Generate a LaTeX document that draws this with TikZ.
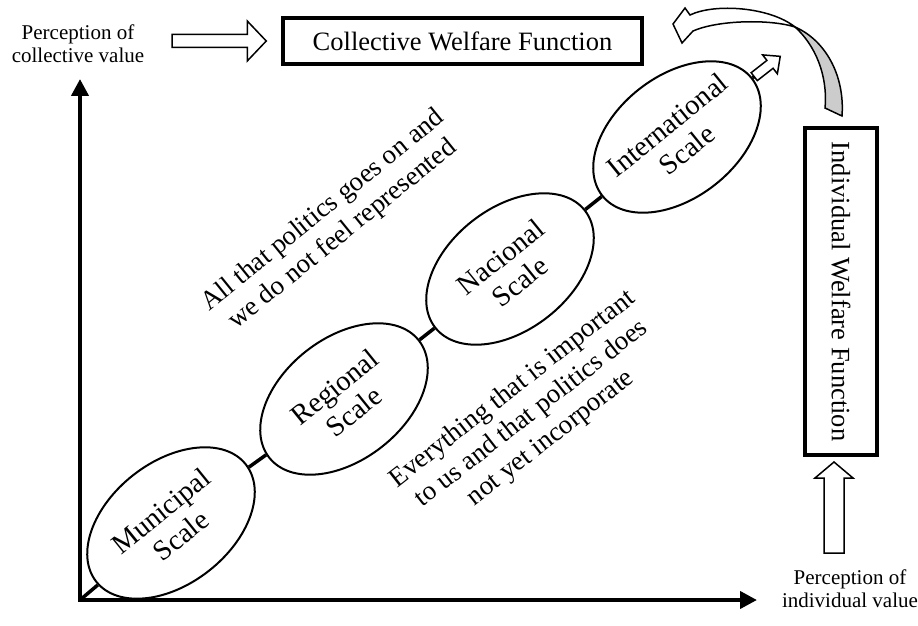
\documentclass[tikz,border=0pt]{standalone}
\usepackage{fontspec}
\setmainfont{Liberation Serif}
\usetikzlibrary{arrows.meta,calc,shapes.geometric}

% hollow block arrow: from, to, half shaft, half head, head length
\newcommand{\hollowarrow}[5]{%
  \coordinate (hb) at ($(#2)!#5!(#1)$);
  \draw[blockarrow] ($(#1)!#3!90:(#2)$) -- ($(hb)!#3!-90:(#1)$) -- ($(hb)!#4!-90:(#1)$)
    -- (#2) -- ($(hb)!#4!90:(#1)$) -- ($(hb)!#3!90:(#1)$) -- ($(#1)!#3!-90:(#2)$) -- cycle;}

\begin{document}
\begin{tikzpicture}[line join=miter,>={Triangle[length=17pt,width=17pt]},x=1pt,y=1pt,
  scalebox/.style={ellipse,draw,line width=2pt,fill=white,inner sep=0pt,
    minimum width=190pt,minimum height=122pt,rotate=38},
  scaletext/.style={rotate=39,align=center,font=\fontsize{28.5}{31}\selectfont},
  wfbox/.style={draw,line width=3.5pt,inner sep=0pt,font=\fontsize{26.5}{30}\selectfont},
  note/.style={rotate=38,align=center,font=\fontsize{27}{31}\selectfont},
  small/.style={align=center,font=\fontsize{21}{23}\selectfont},
  blockarrow/.style={draw,line width=1.5pt,fill=white}]
\useasboundingbox (0,0) rectangle (918,625);

% axes
\coordinate (O) at (80,25);
\coordinate (ytip) at (80,546);
\coordinate (xtip) at (757,25);
\draw[line width=4pt,<->] (ytip) -- (O) -- (xtip);

% scales
\node[scalebox] (mun) at (171,102) {};
\node[scalebox] (reg) at (344,226) {};
\node[scalebox] (nac) at (510,356) {};
\node[scalebox] (int) at (677,488) {};
\foreach \n/\t in {mun/Municipal,reg/Regional,nac/Nacional,int/International}
  \node[scaletext] at (\n) {\t\\Scale};
\coordinate (stub) at ($(int.center)+(38:98)$);
\coordinate (stubtip) at ($(int.center)+(38:131)$);
\draw[line width=3.5pt] (O) -- (mun) (mun) -- (reg) (reg) -- (nac) (nac) -- (int) (int) -- (stub);
\hollowarrow{stub}{stubtip}{5pt}{12pt}{13pt}

% welfare functions
\node[wfbox,minimum width=359pt,minimum height=46pt] (cwf) at (462.5,584) {Collective Welfare Function};
\node[wfbox,rotate=-90,minimum width=327pt,minimum height=72pt] (iwf) at (841,333.5) {Individual Welfare Function};
\node[small] (pcv) at (78,581) {Perception of\\collective value};
\node[small] (piv) at (850,36) {Perception of\\individual value};
\coordinate (ca1) at (172,584);
\coordinate (ca2) at ([xshift=-15pt]cwf.west);
\hollowarrow{ca1}{ca2}{6.5pt}{20pt}{19pt}
\coordinate (ia1) at (834,72);
\coordinate (ia2) at (834,163);
\hollowarrow{ia1}{ia2}{10pt}{19pt}{16pt}

% notes
\node[note,rotate=1] (nrep) at (333,402) {All that politics goes on and\\we do not feel represented};
\node[note] (ninc) at (532,211) {Everything that is important\\to us and that politics does\\not yet incorporate};

% curved arrow
\draw[blockarrow] (673,601) -- (685,617) -- (690,610) .. controls (715,622) and (770,618) .. (795,598)
  .. controls (770,606) and (718,605) .. (693,594) -- (682,582) -- cycle;
\draw[blockarrow,fill=gray!40] (795,598) .. controls (825,585) and (845,550) .. (842,509)
  -- (825,517) .. controls (828,550) and (815,580) .. (795,598) -- cycle;
\end{tikzpicture}
\end{document}
